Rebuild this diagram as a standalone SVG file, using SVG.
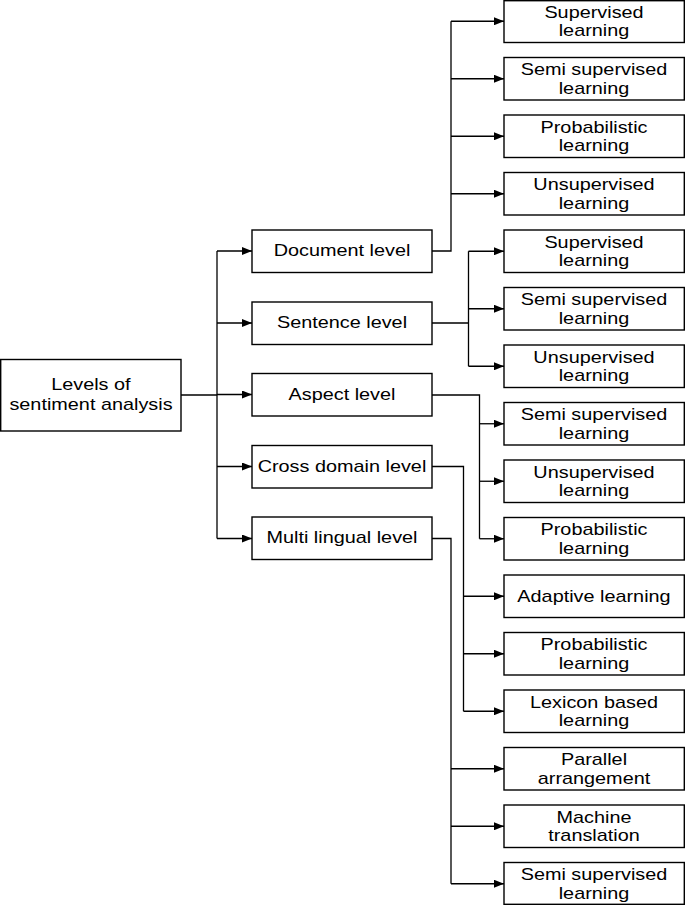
<svg xmlns="http://www.w3.org/2000/svg" width="685" height="905" viewBox="0 0 685 905">
<style>
.b{fill:#fff;stroke:#000;stroke-width:1.4}
.t{font-family:"Liberation Sans",Arial,sans-serif;font-size:16px;fill:#000;text-anchor:middle;transform-box:fill-box;transform-origin:center;transform:scaleX(1.24)}
.c{fill:none;stroke:#000;stroke-width:1.3}
</style>
<defs>
<marker id="a" markerWidth="10" markerHeight="8" refX="10" refY="4" orient="auto" markerUnits="userSpaceOnUse">
<path d="M0,0 L10,4 L0,8 Z" fill="#000"/>
</marker>
</defs>
<rect width="685" height="905" fill="#fff"/>
<g id="connectors">
<path class="c" d="M181,395 H217"/>
<path class="c" d="M217,251 V538.5"/>
<path class="c" d="M217,251 H252" marker-end="url(#a)"/>
<path class="c" d="M217,323 H252" marker-end="url(#a)"/>
<path class="c" d="M217,394.5 H252" marker-end="url(#a)"/>
<path class="c" d="M217,466.5 H252" marker-end="url(#a)"/>
<path class="c" d="M217,538.5 H252" marker-end="url(#a)"/>
<path class="c" d="M432,251 H451 V21.25"/>
<path class="c" d="M451,21.25 H504" marker-end="url(#a)"/>
<path class="c" d="M451,78.75 H504" marker-end="url(#a)"/>
<path class="c" d="M451,136.25 H504" marker-end="url(#a)"/>
<path class="c" d="M451,193.75 H504" marker-end="url(#a)"/>
<path class="c" d="M432,323 H468.5 M468.5,251.25 V366.25"/>
<path class="c" d="M468.5,251.25 H504" marker-end="url(#a)"/>
<path class="c" d="M468.5,308.75 H504" marker-end="url(#a)"/>
<path class="c" d="M468.5,366.25 H504" marker-end="url(#a)"/>
<path class="c" d="M432,395 H479.5 V538.75"/>
<path class="c" d="M479.5,423.75 H504" marker-end="url(#a)"/>
<path class="c" d="M479.5,481.25 H504" marker-end="url(#a)"/>
<path class="c" d="M479.5,538.75 H504" marker-end="url(#a)"/>
<path class="c" d="M432,466.5 H463.5 V711.25"/>
<path class="c" d="M463.5,596.25 H504" marker-end="url(#a)"/>
<path class="c" d="M463.5,653.75 H504" marker-end="url(#a)"/>
<path class="c" d="M463.5,711.25 H504" marker-end="url(#a)"/>
<path class="c" d="M432,538.5 H451 V883.75"/>
<path class="c" d="M451,768.75 H504" marker-end="url(#a)"/>
<path class="c" d="M451,826.25 H504" marker-end="url(#a)"/>
<path class="c" d="M451,883.75 H504" marker-end="url(#a)"/>
</g>
<g id="root"><rect class="b" x="0.7" y="359.5" width="180.3" height="71.5"/><text class="t" x="91" y="390.5">Levels of</text><text class="t" x="91" y="410">sentiment analysis</text></g>
<g id="document"><rect class="b" x="252" y="230" width="180" height="42.5"/><text class="t" x="342" y="256.5">Document level</text></g>
<g id="sentence"><rect class="b" x="252" y="302" width="180" height="42.5"/><text class="t" x="342" y="328.5">Sentence level</text></g>
<g id="aspect"><rect class="b" x="252" y="373.5" width="180" height="42.5"/><text class="t" x="342" y="400">Aspect level</text></g>
<g id="crossdomain"><rect class="b" x="252" y="445.5" width="180" height="42.5"/><text class="t" x="342" y="472">Cross domain level</text></g>
<g id="multilingual"><rect class="b" x="252" y="517" width="180" height="42.5"/><text class="t" x="342" y="543.5">Multi lingual level</text></g>
<g id="r0"><rect class="b" x="504" y="0.7" width="180.3" height="41.8"/><text class="t" x="594" y="18">Supervised</text><text class="t" x="594" y="36.5">learning</text></g>
<g id="r1"><rect class="b" x="504" y="57.5" width="180.3" height="42.5"/><text class="t" x="594" y="75.5">Semi supervised</text><text class="t" x="594" y="94">learning</text></g>
<g id="r2"><rect class="b" x="504" y="115" width="180.3" height="42.5"/><text class="t" x="594" y="133">Probabilistic</text><text class="t" x="594" y="151.5">learning</text></g>
<g id="r3"><rect class="b" x="504" y="172.5" width="180.3" height="42.5"/><text class="t" x="594" y="190.5">Unsupervised</text><text class="t" x="594" y="209">learning</text></g>
<g id="r4"><rect class="b" x="504" y="230" width="180.3" height="42.5"/><text class="t" x="594" y="248">Supervised</text><text class="t" x="594" y="266.5">learning</text></g>
<g id="r5"><rect class="b" x="504" y="287.5" width="180.3" height="42.5"/><text class="t" x="594" y="305.5">Semi supervised</text><text class="t" x="594" y="324">learning</text></g>
<g id="r6"><rect class="b" x="504" y="345" width="180.3" height="42.5"/><text class="t" x="594" y="363">Unsupervised</text><text class="t" x="594" y="381.5">learning</text></g>
<g id="r7"><rect class="b" x="504" y="402.5" width="180.3" height="42.5"/><text class="t" x="594" y="420.5">Semi supervised</text><text class="t" x="594" y="439">learning</text></g>
<g id="r8"><rect class="b" x="504" y="460" width="180.3" height="42.5"/><text class="t" x="594" y="478">Unsupervised</text><text class="t" x="594" y="496.5">learning</text></g>
<g id="r9"><rect class="b" x="504" y="517.5" width="180.3" height="42.5"/><text class="t" x="594" y="535.5">Probabilistic</text><text class="t" x="594" y="554">learning</text></g>
<g id="r10"><rect class="b" x="504" y="575" width="180.3" height="42.5"/><text class="t" x="594" y="602.5">Adaptive learning</text></g>
<g id="r11"><rect class="b" x="504" y="632.5" width="180.3" height="42.5"/><text class="t" x="594" y="650.5">Probabilistic</text><text class="t" x="594" y="669">learning</text></g>
<g id="r12"><rect class="b" x="504" y="690" width="180.3" height="42.5"/><text class="t" x="594" y="708">Lexicon based</text><text class="t" x="594" y="726.5">learning</text></g>
<g id="r13"><rect class="b" x="504" y="747.5" width="180.3" height="42.5"/><text class="t" x="594" y="765.5">Parallel</text><text class="t" x="594" y="784">arrangement</text></g>
<g id="r14"><rect class="b" x="504" y="805" width="180.3" height="42.5"/><text class="t" x="594" y="823">Machine</text><text class="t" x="594" y="841.5">translation</text></g>
<g id="r15"><rect class="b" x="504" y="862.5" width="180.3" height="41.8"/><text class="t" x="594" y="880.5">Semi supervised</text><text class="t" x="594" y="899">learning</text></g>
</svg>
